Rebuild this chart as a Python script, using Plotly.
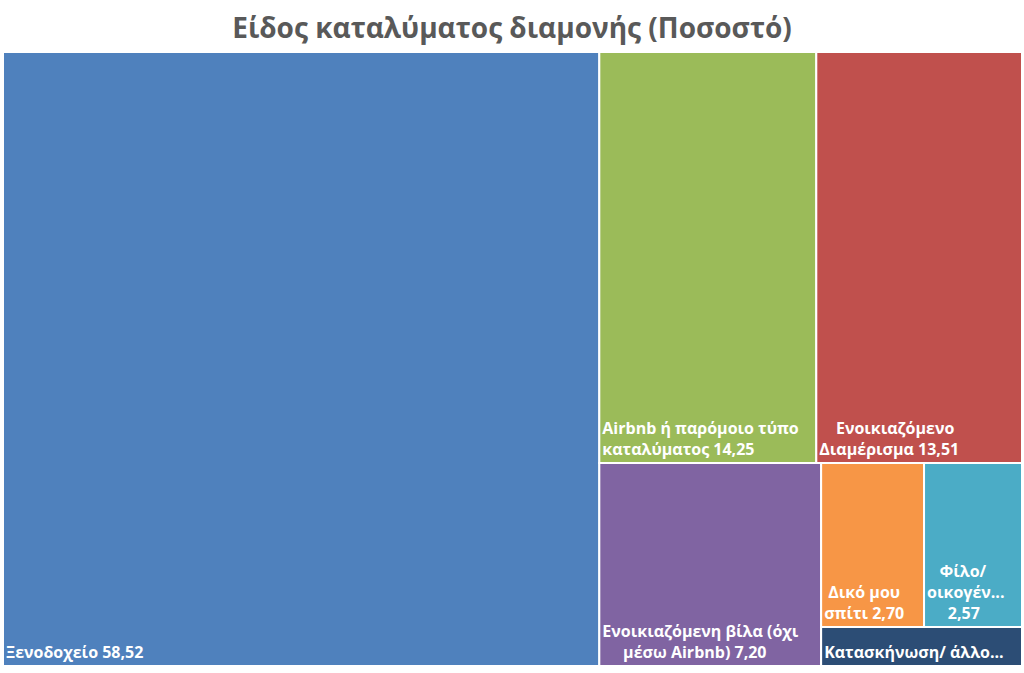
import plotly.graph_objects as go

# Data
root_label = "Είδος καταλύματος"
categories = [
    "Ξενοδοχείο",
    "Airbnb ή παρόμοιο τύπο καταλύματος",
    "Ενοικιαζόμενο Διαμέρισμα",
    "Ενοικιαζόμενη βίλα (όχι μέσω Airbnb)",
    "Δικό μου σπίτι",
    "Φίλο/ οικογένεια",
    "Κατασκήνωση/ άλλο",
]
# label lines as shown in the tiles (value appended to the last line)
label_lines = [
    ["Ξενοδοχείο"],
    ["Airbnb ή παρόμοιο τύπο", "καταλύματος"],
    ["    Ενοικιαζόμενο", "Διαμέρισμα"],
    ["Ενοικιαζόμενη βίλα (όχι", "     μέσω Airbnb)"],
    [" Δικό μου", "σπίτι"],
    ["   Φίλο/", "οικογέν...", ""],
    ["Κατασκήνωση/ άλλο..."],
]
values = [58.52, 14.25, 13.51, 7.20, 2.70, 2.57, 1.25]
show_value = [True, True, True, True, True, True, False]
colors = ["#4F81BD", "#9BBB59", "#C0504D", "#8064A2", "#F79646", "#4BACC6", "#2C4D75"]


def fmt(v):
    return f"{v:.2f}".replace(".", ",")


texts = []
for lines, v, sv in zip(label_lines, values, show_value):
    lines = list(lines)
    if sv:
        if lines[-1] == "":
            lines[-1] = "     " + fmt(v)
        else:
            lines[-1] = lines[-1] + " " + fmt(v)
    texts.append("<br>".join(l.replace(" ", "&nbsp;") if l.startswith(" ") else l for l in lines))

fig = go.Figure(
    go.Treemap(
        labels=[root_label] + categories,
        parents=[""] + [root_label] * len(categories),
        values=[sum(values)] + values,
        branchvalues="total",
        text=[""] + texts,
        textinfo="text",
        textposition="bottom left",
        textfont=dict(family="Open Sans, sans-serif", size=16, color="white", weight="bold"),
        marker=dict(colors=["white"] + colors, line=dict(color="white", width=2),
                    pad=dict(t=0, l=0, r=0, b=0)),
        tiling=dict(packing="squarify", pad=0),
        pathbar=dict(visible=False),
        hoverinfo="skip",
        sort=True,
        domain=dict(x=[0, 1], y=[0, 1]),
    )
)

fig.update_layout(
    width=1024,
    height=673,
    margin=dict(l=3, r=2, t=52, b=7),
    paper_bgcolor="white",
    title=dict(
        text="Είδος καταλύματος διαμονής (Ποσοστό)",
        x=0.5,
        xanchor="center",
        y=0.958,
        yanchor="middle",
        font=dict(family="Open Sans, sans-serif", size=28, color="#595959", weight="bold"),
    ),
    uniformtext=dict(minsize=16, mode="show"),
)

fig.write_html("out.html", config={"displayModeBar": False},
               post_script="document.body.style.margin='0';")
